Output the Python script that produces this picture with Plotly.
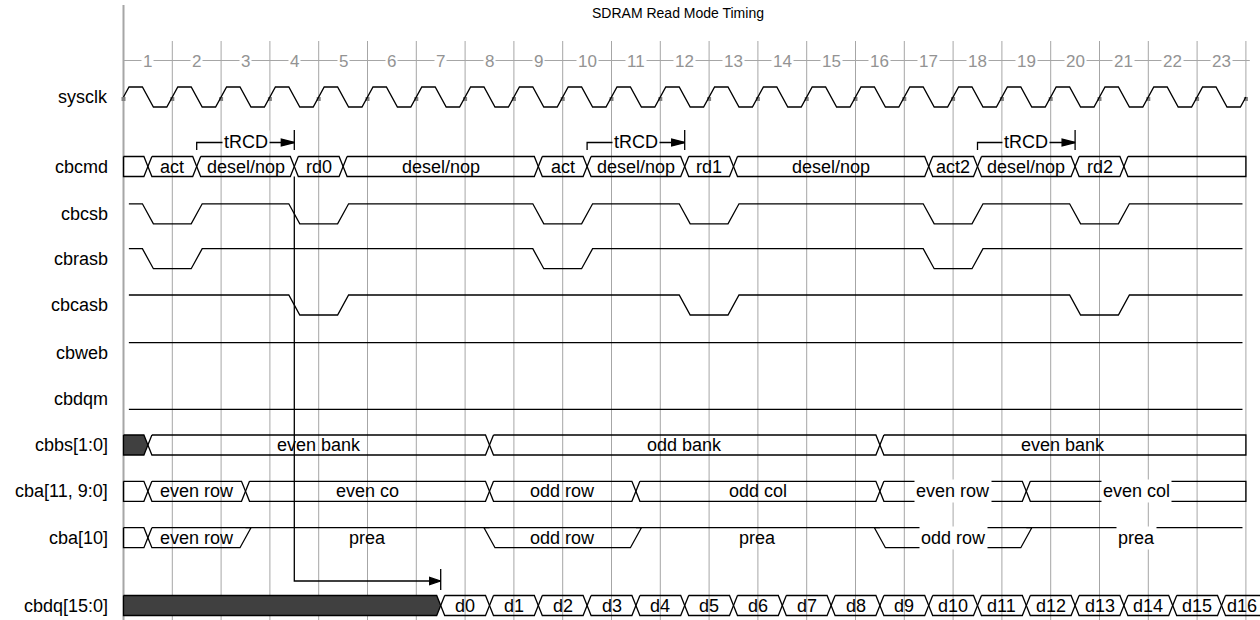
import plotly.graph_objects as go

# ---- values (times are in clock cycles) ----
TITLE = "SDRAM Read Mode Timing"
N_CYCLES = 23
cycle_labels = ["1", "2", "3", "4", "5", "6", "7", "8", "9", "10", "11", "12",
                "13", "14", "15", "16", "17", "18", "19", "20", "21", "22", "23"]

signal_names = ["sysclk", "cbcmd", "cbcsb", "cbrasb", "cbcasb", "cbweb", "cbdqm",
                "cbbs[1:0]", "cba[11, 9:0]", "cba[10]", "cbdq[15:0]"]

sysclk_wave = "ppppppppppppppppppppppp"  # one rising edge per cycle, on the grid line

cbcmd_edges = [0, 0.5, 1.5, 3.5, 4.5, 8.5, 9.5, 11.5, 12.5, 16.5, 17.5, 19.5, 20.5, 23]
cbcmd_values = ["", "act", "desel/nop", "rd0", "desel/nop", "act", "desel/nop", "rd1",
                "desel/nop", "act2", "desel/nop", "rd2", ""]

cbcsb_times = [0, 0.5, 1.5, 3.5, 4.5, 8.5, 9.5, 11.5, 12.5, 16.5, 17.5, 19.5, 20.5, 23]
cbcsb_levels = [1, 0, 1, 0, 1, 0, 1, 0, 1, 0, 1, 0, 1]
cbrasb_times = [0, 0.5, 1.5, 8.5, 9.5, 16.5, 17.5, 23]
cbrasb_levels = [1, 0, 1, 0, 1, 0, 1]
cbcasb_times = [0, 3.5, 4.5, 11.5, 12.5, 19.5, 20.5, 23]
cbcasb_levels = [1, 0, 1, 0, 1, 0, 1]
cbweb_times = [0, 23]
cbweb_levels = [1]
cbdqm_times = [0, 23]
cbdqm_levels = [0]

cbbs_edges = [0, 0.5, 7.5, 15.5, 23]
cbbs_values = [None, "even bank", "odd bank", "even bank"]  # None = unknown (dark)

cba_addr_edges = [0, 0.5, 2.5, 7.5, 10.5, 15.5, 18.5, 23]
cba_addr_values = ["", "even row", "even co", "odd row", "odd col", "even row", "even col"]

cba10_edges = [0, 0.5, 2.5, 7.5, 10.5, 15.5, 18.5, 23]
cba10_values = ["", "even row", "prea", "odd row", "prea", "odd row", "prea"]
cba10_kinds = ["bus", "bus", "high", "bus", "high", "bus", "high"]

cbdq_edges = [0, 6.5, 7.5, 8.5, 9.5, 10.5, 11.5, 12.5, 13.5, 14.5, 15.5, 16.5, 17.5,
              18.5, 19.5, 20.5, 21.5, 22.5, 23.35]
cbdq_values = [None, "d0", "d1", "d2", "d3", "d4", "d5", "d6", "d7", "d8", "d9", "d10",
               "d11", "d12", "d13", "d14", "d15", "d16"]

trcd_start = [1.5, 9.5, 17.5]
trcd_end = [3.5, 11.5, 19.5]
read_start = 3.5   # rd0 command
read_end = 6.5     # first data word

# ---- layout (pixels) ----
W, H = 1260, 620
LEFT_PX = 123.5
PX = 48.8  # pixels per cycle
ROW_Y = [97, 166.5, 213.8, 258.7, 305, 352.7, 399.3, 445, 491.3, 537.7, 605.5]
HALF = 10
H_X = 4 / PX      # half width of a bus crossing
H_E = 5.5 / PX    # half width of a bit edge
START_INSET = 0.11
END_INSET = 0.07
FONT = "Liberation Sans, Arial, sans-serif"
GRID = "#a6a6a6"
DARK = "#404040"
LINE = dict(color="black", width=1.3)


def tx(px):
    """Pixel column -> cycle coordinate."""
    return (px - LEFT_PX) / PX


fig = go.Figure()
annotations = []


def add_path(xs, ys, fill=None, line=LINE):
    fig.add_trace(go.Scatter(
        x=xs, y=ys, mode="lines", line=line,
        fill="toself" if fill else None, fillcolor=fill,
        hoverinfo="skip", showlegend=False,
    ))


def add_text(x, y, text, size=18, color="black", bg=None, xanchor="center"):
    annotations.append(dict(
        x=x, y=y, xref="x", yref="y", text=text, showarrow=False,
        xanchor=xanchor, yanchor="middle",
        font=dict(family=FONT, size=size, color=color),
        bgcolor=bg, borderpad=1,
    ))


# grid lines, left border, cycle ruler
gx, gy = [], []
for k in range(1, N_CYCLES + 1):
    gx += [k, k, None]
    gy += [41, H, None]
add_path(gx, gy, line=dict(color=GRID, width=1))
add_path([0, 0], [5, H], line=dict(color=GRID, width=2))
add_path([0, N_CYCLES + 0.08], [60.5, 60.5], line=dict(color=GRID, width=1))
for k, lab in enumerate(cycle_labels):
    add_text(k + 0.5, 61, lab, size=17, color="#939393", bg="white")

add_text(tx(678), 13, TITLE, size=14)

# signal names
for name, yc in zip(signal_names, ROW_Y):
    add_text(tx(110), yc, name, xanchor="right")


def clock_row(wave, yc):
    hi, lo = yc - HALF, yc + HALF
    xs, ys = [0], [yc]
    for k, ch in enumerate(wave):
        if k > 0:
            xs += [k - H_E]
            ys += [lo]
        xs += [k + H_E, k + 0.5 - H_E, k + 0.5 + H_E]
        ys += [hi, hi, lo]
    xs += [len(wave) - H_E, len(wave)]
    ys += [lo, yc]
    mk = list(range(len(wave) + 1))
    fig.add_trace(go.Scatter(
        x=mk, y=[yc + 2] * len(mk), mode="markers",
        marker=dict(symbol="square", size=4, color="#808080"),
        hoverinfo="skip", showlegend=False,
    ))
    add_path(xs, ys)


def bit_row(times, levels, yc):
    lvl = lambda v: yc - HALF if v else yc + HALF
    xs, ys = [times[0] + START_INSET], [lvl(levels[0])]
    for i, c in enumerate(times[1:-1]):
        xs += [c - H_E, c + H_E]
        ys += [lvl(levels[i]), lvl(levels[i + 1])]
    xs.append(times[-1] - END_INSET)
    ys.append(lvl(levels[-1]))
    add_path(xs, ys)


def bus_row(edges, values, yc, kinds=None, opaque_from=None):
    top, bot = yc - HALF, yc + HALF
    n = len(values)
    kinds = kinds or ["bus"] * n
    for i in range(n):
        a, b = edges[i], edges[i + 1]
        val = values[i]
        bg = "white" if opaque_from is not None and a >= opaque_from else None
        if kinds[i] == "high":
            x1 = b - (END_INSET if i == n - 1 else 0)
            add_path([a, x1], [top, top])
            if val:
                add_text((a + b) / 2, yc, val, bg=bg)
            continue
        prev = kinds[i - 1] if i > 0 else None
        nxt = kinds[i + 1] if i < n - 1 else None
        if prev is None:
            lt, lb, ltip = (a, top), (a, bot), []
        elif prev == "high":
            lt, lb, ltip = (a - H_E, top), (a + H_E, bot), []
        else:
            lt, lb, ltip = (a + H_X, top), (a + H_X, bot), [(a, yc)]
        if nxt is None:
            rt, rb, rtip = (b, top), (b, bot), []
        elif nxt == "high":
            rt, rb, rtip = (b + H_E, top), (b - H_E, bot), []
        else:
            rt, rb, rtip = (b - H_X, top), (b - H_X, bot), [(b, yc)]
        pts = [lt, rt] + rtip + [rb, lb] + ltip + [lt]
        add_path([p[0] for p in pts], [p[1] for p in pts], fill=DARK if val is None else None)
        if val:
            add_text((a + b) / 2, yc, val, bg=bg)


clock_row(sysclk_wave, ROW_Y[0])
bus_row(cbcmd_edges, cbcmd_values, ROW_Y[1])
bit_row(cbcsb_times, cbcsb_levels, ROW_Y[2])
bit_row(cbrasb_times, cbrasb_levels, ROW_Y[3])
bit_row(cbcasb_times, cbcasb_levels, ROW_Y[4])
bit_row(cbweb_times, cbweb_levels, ROW_Y[5])
bit_row(cbdqm_times, cbdqm_levels, ROW_Y[6])
bus_row(cbbs_edges, cbbs_values, ROW_Y[7])
bus_row(cba_addr_edges, cba_addr_values, ROW_Y[8], opaque_from=15.5)
bus_row(cba10_edges, cba10_values, ROW_Y[9], kinds=cba10_kinds, opaque_from=15.5)
bus_row(cbdq_edges, cbdq_values, ROW_Y[10])


def arrow_head(x, y, length=13 / PX, half=3.5):
    add_path([x, x - length, x - length, x], [y, y - half, y + half, y], fill="black")


# tRCD markers above cbcmd
for s, e in zip(trcd_start, trcd_end):
    add_path([s, s, e], [150, 142.5, 142.5])
    add_path([e, e], [130, 150])
    arrow_head(e, 142.5)
    add_text((s + e) / 2, 141.5, "tRCD", bg="white")

# read latency arrow: rd0 command -> first data word
y_arrow = 581
add_path([read_start, read_start, read_end], [ROW_Y[1] + HALF, y_arrow, y_arrow])
add_path([read_end, read_end], [569, 590])
arrow_head(read_end, y_arrow, length=11 / PX)

fig.update_layout(
    width=W, height=H,
    margin=dict(l=0, r=0, t=0, b=0),
    xaxis=dict(range=[tx(0), tx(W)], visible=False, fixedrange=True),
    yaxis=dict(range=[H, 0], visible=False, fixedrange=True),
    plot_bgcolor="white",
    paper_bgcolor="white",
    showlegend=False,
    annotations=annotations,
)
# the page's default 8px body margin would shift the figure off the window
fig.write_html(
    "out.html",
    config={"displayModeBar": False},
    post_script="document.body.style.margin='0';document.body.style.overflow='hidden';",
)
